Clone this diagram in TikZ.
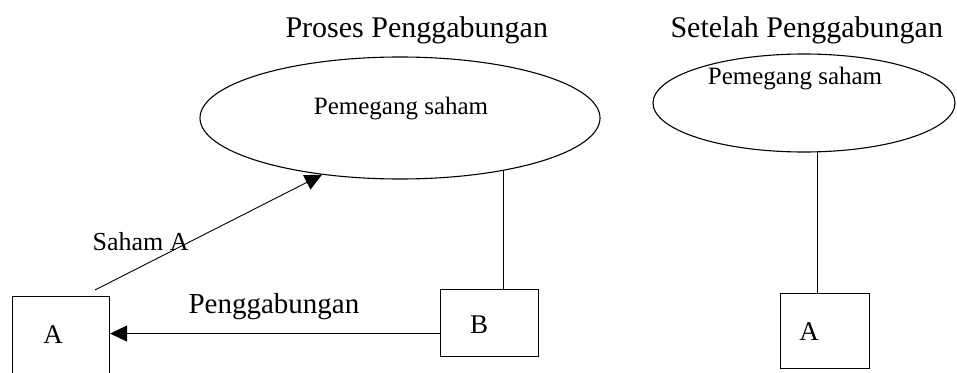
\documentclass[tikz,border=0pt]{standalone}
\usepackage{fontspec}
\setmainfont{Liberation Serif}
\usetikzlibrary{arrows.meta,shapes.geometric}
\begin{document}
\begin{tikzpicture}[x=1pt,y=-1pt,
  line width=1.1pt,
  box/.style={draw,rectangle,inner sep=0pt,anchor=north west},
  ell/.style={draw,ellipse,inner sep=0pt},
  ttl/.style={font=\fontsize{30}{33}\selectfont,anchor=base west,inner sep=0pt},
  etxt/.style={font=\fontsize{25}{28}\selectfont,anchor=base,inner sep=0pt},
  ltr/.style={font=\fontsize{27}{30}\selectfont,inner sep=0pt},
  lbl/.style={font=\fontsize{29}{32}\selectfont,anchor=base west,inner sep=0pt},
  slbl/.style={font=\fontsize{26}{29}\selectfont,anchor=base west,inner sep=0pt},
  arr/.style={-{Triangle[length=17pt,width=16pt]}}]
\useasboundingbox (0,0) rectangle (957,372);
\clip (0,0) rectangle (957,372);
% titles
\node[ttl] (t1) at (285,37) {Proses Penggabungan};
\node[ttl] (t2) at (670,37) {Setelah Penggabungan};
% ellipses
\node[ell,minimum width=400pt,minimum height=122pt] (e1) at (400,118) {};
\node[ell,minimum width=302pt,minimum height=98pt] (e2) at (804,103) {};
\node[etxt] (p1) at (401,114) {Pemegang saham};
\node[etxt] (p2) at (795,84) {Pemegang saham};
% boxes
\node[box,minimum width=97pt,minimum height=95pt] (a1) at (12,296) {};
\node[box,minimum width=98pt,minimum height=67pt] (b) at (440,289) {};
\node[box,minimum width=89pt,minimum height=75pt] (a2) at (780,293) {};
\node[ltr] (la1) at (53,335) {A};
\node[ltr] (lb) at (479,325) {B};
\node[ltr] (la2) at (809,332) {A};
% connectors
\draw (e1.-27.2) -- (e1.-27.2 |- b.north);
\draw (e2.-75.1) -- (e2.-75.1 |- a2.north);
\draw[arr] ([yshift=-10.5pt]b.west) coordinate (hb) -- (hb -| a1.east);
\node[lbl] (pg) at (188,313) {Penggabungan};
\coordinate (sa) at (95,290);
\draw[arr,line width=0.9pt] (sa) -- (e1.216);
\node[slbl] (sh) at (92,250) {Saham A};
\end{tikzpicture}
\end{document}
